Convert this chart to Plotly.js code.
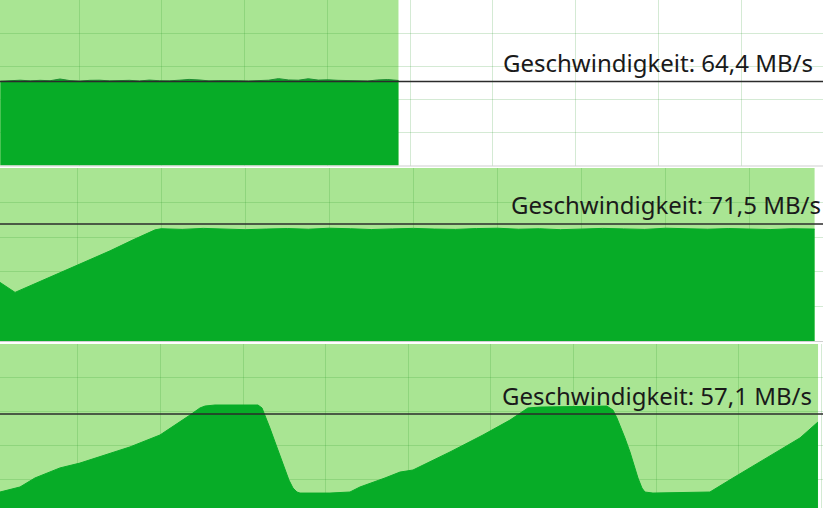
<!DOCTYPE html>
<html>
<head>
<meta charset="utf-8">
<script src="https://cdn.plot.ly/plotly-3.0.1.min.js"></script>
<style>html,body{margin:0;padding:0;background:#fff;}#chart{width:823px;height:508px;}</style>
</head>
<body>
<div id="chart"></div>
<script>
// Panel 1 (time in % of copy, speed in MB/s)
const time1 = [0.5,1.7,2.9,4.1,5.3,6.5,7.7,8.9,10.1,11.3,12.5,13.7,14.9,16.1,17.3,18.5,19.7,20.9,22.1,23.3,24.5,25.7,26.9,28.1,29.3,30.5,31.7,32.9,34.1,35.3,36.5,37.7,38.9,40.1,41.3,42.5,43.7,44.9,46.1,47.3,48.6];
const speed1 = [64.6,65.2,65.4,64.9,65.3,65.0,66.3,65.1,64.7,65.3,65.4,64.9,65.2,65.3,64.8,65.5,65.0,64.9,65.4,66.0,65.6,64.9,65.1,65.3,65.0,64.8,65.2,65.4,66.6,65.6,65.4,66.5,65.5,65.7,65.3,65.2,65.0,64.8,65.6,65.9,65.2];
const current1 = 64.4;
const progress1 = 48.6;

// Panel 2
const time2 = [0.84,2.63,4.77,8.81,12.74,13.93,16.66,18.32,19.28,20.0,22.5,25.0,27.5,30.0,32.5,35.0,37.5,40.0,42.5,45.0,47.5,50.0,52.5,55.0,57.5,60.0,62.5,65.0,67.5,70.0,72.5,75.0,77.5,80.0,82.5,85.0,87.5,90.0,92.5,95.0,97.7];
const speed2 = [35.8,29.7,34.5,43.6,52.7,55.1,61.8,65.4,67.9,68.6,68.2,68.8,68.5,68.0,68.4,68.7,68.3,68.9,68.6,68.1,68.5,68.8,68.4,68.2,68.7,68.9,68.3,68.6,68.0,68.4,68.8,68.5,68.2,68.9,68.6,68.3,68.7,68.5,68.1,68.6,68.4];
const current2 = 71.5;
const progress2 = 97.7;

// Panel 3
const time3 = [0.56,2.98,4.79,7.82,10.24,13.87,16.29,19.93,22.35,23.56,24.77,25.38,26.59,31.79,32.28,32.64,33.24,33.85,34.46,35.06,35.54,36.03,36.51,36.88,40.51,42.93,44.14,47.17,48.98,50.56,55.04,59.03,62.30,64.48,65.93,74.04,74.77,75.25,75.62,76.22,76.83,77.31,77.80,78.28,78.64,79.61,86.51,89.30,93.41,97.41,99.59];
const speed3 = [12.1,15.0,20.2,26.0,28.8,34.6,38.1,45.0,52.5,56.5,60.6,61.7,62.3,62.3,60.6,56.5,49.0,41.0,32.9,26.0,19.0,14.4,12.1,11.5,11.5,12.1,15.0,20.2,23.6,24.8,35.2,45.0,53.6,60.6,61.1,61.7,59.4,54.8,50.8,43.3,35.2,27.1,20.2,14.4,12.1,11.5,12.1,20.2,31.7,43.3,52.5];
const current3 = 57.1;
const progress3 = 99.6;

const labelPrefix = "Geschwindigkeit: ";
const labels = [labelPrefix + "64,4 MB/s", labelPrefix + "71,5 MB/s", labelPrefix + "57,1 MB/s"];

const H = 508;
const pf = px => 1 - px / H;

const DARK = '#07ac27';
const LIGHT = '#a9e593';
const GRID = 'rgba(40,150,40,0.2)';

function trace(x, y, n, edge) {
  return {x: x, y: y, xaxis: 'x' + (n === 1 ? '' : n), yaxis: 'y' + (n === 1 ? '' : n),
    type: 'scatter', mode: 'lines', fill: 'tozeroy', fillcolor: DARK,
    line: {color: edge, width: 1, shape: 'linear'}, hoverinfo: 'skip'};
}

const data = [
  trace(time1, speed1, 1, '#1d8a31'),
  trace(time2, speed2, 2, DARK),
  trace(time3, speed3, 3, DARK)
];

function xax(range) {
  return {range: range, showgrid: true, gridcolor: GRID, gridwidth: 1, tick0: 0, dtick: 10,
    showticklabels: false, ticks: '', zeroline: false, showline: false, fixedrange: true};
}
function yax(range, domain, anchor) {
  return {range: range, domain: domain, anchor: anchor, showgrid: true, gridcolor: GRID, gridwidth: 1,
    tick0: 0, dtick: (range[1]) / 5, showticklabels: false, ticks: '', zeroline: false, showline: false, fixedrange: true};
}

const y1max = 126.9, y2max = 105.7, y3max = 97.5;
const FONT = {family: 'Noto Sans, Open Sans, sans-serif', size: 24, color: '#1a1a1a'};

const layout = {
  width: 823, height: 508,
  margin: {l: 0, r: 0, t: 0, b: 0, pad: 0},
  paper_bgcolor: '#ffffff', plot_bgcolor: '#ffffff',
  showlegend: false,
  xaxis: Object.assign(xax([0.45, 99.9]), {anchor: 'y'}),
  yaxis: yax([0, y1max], [pf(165.5), 1], 'x'),
  xaxis2: Object.assign(xax([0.84, 98.7]), {anchor: 'y2'}),
  yaxis2: yax([0, y2max], [pf(341), pf(168)], 'x2'),
  xaxis3: Object.assign(xax([0.56, 100.2]), {anchor: 'y3'}),
  yaxis3: yax([2.88, y3max], [0, pf(344)], 'x3'),
  shapes: [
    {type: 'rect', layer: 'below', xref: 'x', yref: 'y domain', x0: 0, x1: progress1, y0: 0, y1: 1, fillcolor: LIGHT, line: {width: 0}},
    {type: 'rect', layer: 'below', xref: 'x2', yref: 'y2 domain', x0: 0, x1: progress2, y0: 0, y1: 1, fillcolor: LIGHT, line: {width: 0}},
    {type: 'rect', layer: 'below', xref: 'x3', yref: 'y3 domain', x0: 0, x1: progress3, y0: 0, y1: 1, fillcolor: LIGHT, line: {width: 0}},
    {type: 'line', xref: 'paper', yref: 'y', x0: 0, x1: 1, y0: current1, y1: current1, line: {color: '#2b2b2b', width: 1.5}},
    {type: 'line', xref: 'paper', yref: 'y2', x0: 0, x1: 1, y0: current2, y1: current2, line: {color: '#2b2b2b', width: 1.5}},
    {type: 'line', xref: 'paper', yref: 'y3', x0: 0, x1: 1, y0: current3, y1: current3, line: {color: '#2b2b2b', width: 1.5}},
    {type: 'line', xref: 'paper', yref: 'paper', x0: 0, x1: 1, y0: pf(166), y1: pf(166), line: {color: '#cfcfcf', width: 1}},
    {type: 'line', xref: 'paper', yref: 'paper', x0: 0, x1: 1, y0: pf(341.5), y1: pf(341.5), line: {color: '#cfcfcf', width: 1}}
  ],
  annotations: [
    {text: labels[0], xref: 'paper', yref: 'paper', x: 815/823, y: pf(62), xanchor: 'right', yanchor: 'middle', showarrow: false, font: FONT},
    {text: labels[1], xref: 'paper', yref: 'paper', x: 1, y: pf(205), xanchor: 'right', yanchor: 'middle', showarrow: false, font: FONT},
    {text: labels[2], xref: 'paper', yref: 'paper', x: 814/823, y: pf(395), xanchor: 'right', yanchor: 'middle', showarrow: false, font: FONT}
  ]
};

Plotly.newPlot('chart', data, layout, {staticPlot: true, displayModeBar: false});
</script>
</body>
</html>
